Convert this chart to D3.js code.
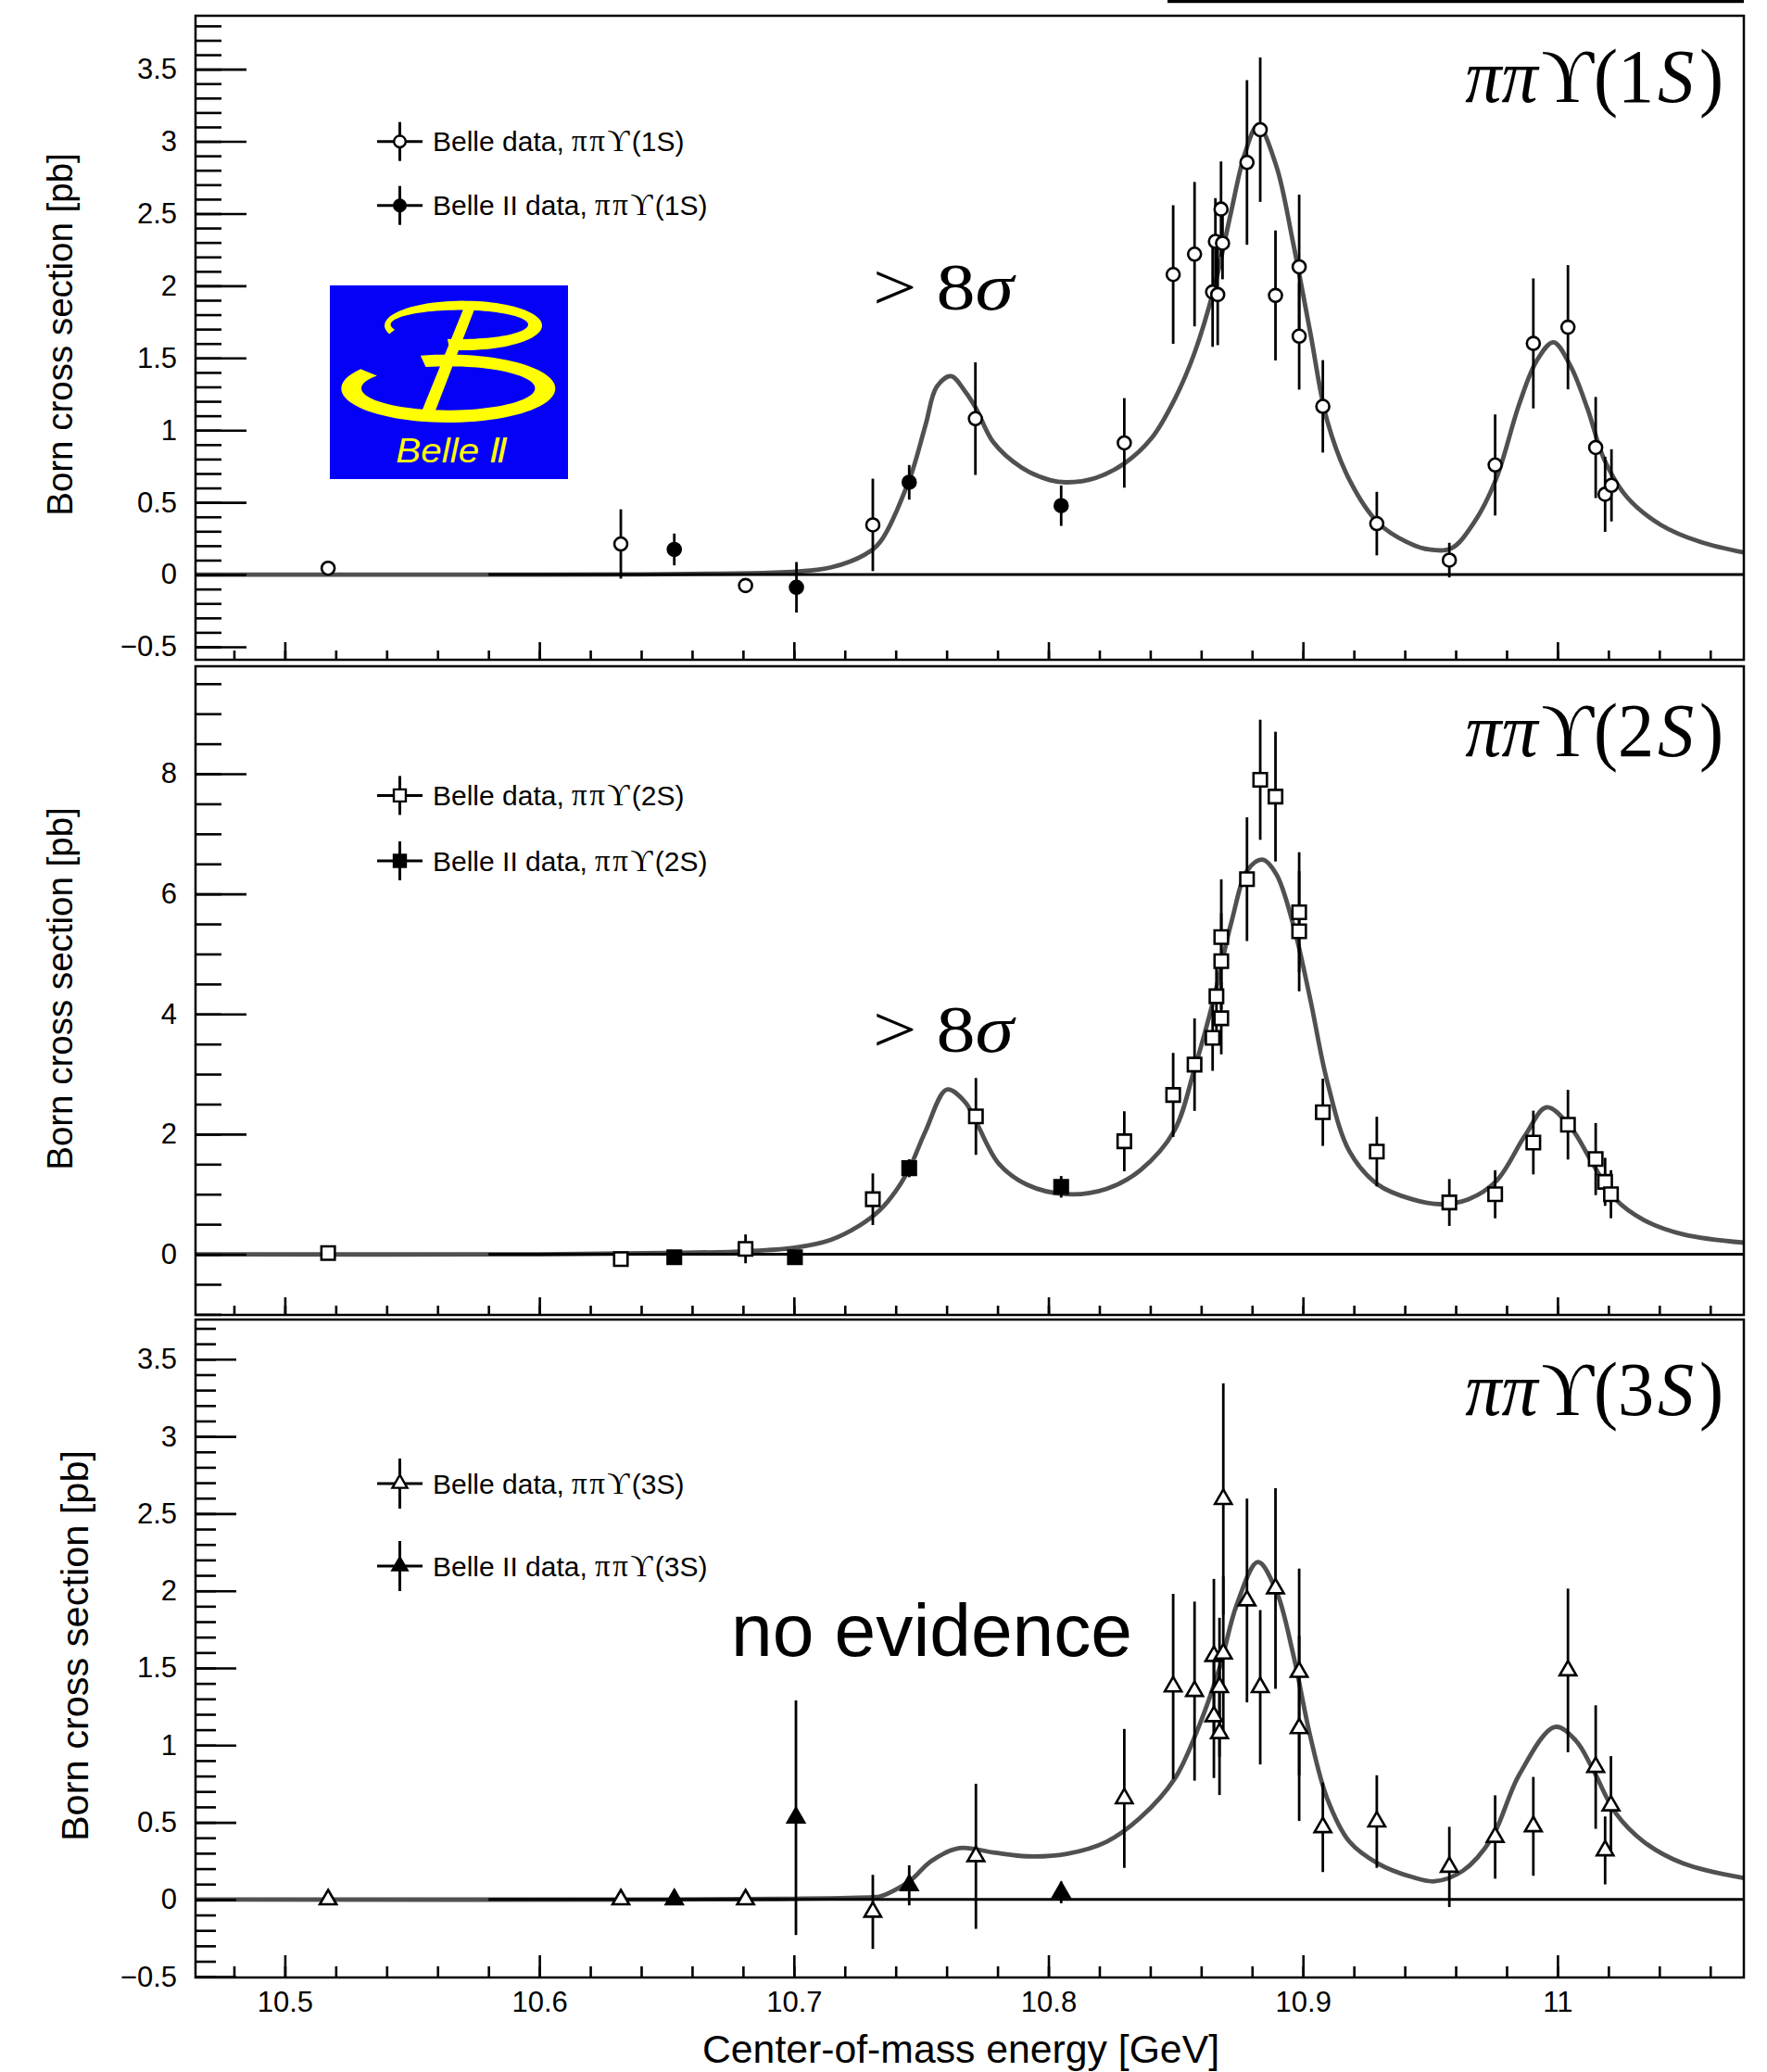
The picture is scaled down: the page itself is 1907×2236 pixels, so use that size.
<!DOCTYPE html>
<html>
<head>
<meta charset="utf-8">
<script src="https://cdn.jsdelivr.net/npm/d3@7"></script>
<style>
  body { margin: 0; background: #fff; }
  svg { display: block; }
  .tick text { font-family: "Liberation Sans", Arial, Helvetica, sans-serif; }
</style>
</head>
<body>
<svg id="chart" width="1907" height="2236"></svg>
<script>
// ---------- shared x axis ----------
const xDomain = [10.4649, 11.0732];
const xMajorTicks = [10.5, 10.6, 10.7, 10.8, 10.9, 11.0];
const xTickLabels = ["10.5", "10.6", "10.7", "10.8", "10.9", "11"];

// ---------- y ticks ----------
const yMajor1S = [-0.5, 0, 0.5, 1, 1.5, 2, 2.5, 3, 3.5];
const yLabels1S = ["\u22120.5", "0", "0.5", "1", "1.5", "2", "2.5", "3", "3.5"];
const yMajor2S = [0, 2, 4, 6, 8];
const yLabels2S = ["0", "2", "4", "6", "8"];
const yMajor3S = [-0.5, 0, 0.5, 1, 1.5, 2, 2.5, 3, 3.5];
const yLabels3S = ["\u22120.5", "0", "0.5", "1", "1.5", "2", "2.5", "3", "3.5"];

// ---------- pi pi Upsilon(1S): [E (GeV), sigma (pb), error] ----------
const belle1S = [
  [10.517, 0.044, 0.02], [10.632, 0.212, 0.24], [10.681, -0.076, 0.03],
  [10.731, 0.344, 0.32], [10.7713, 1.080, 0.39], [10.8298, 0.912, 0.31],
  [10.849, 2.078, 0.48], [10.8574, 2.219, 0.50], [10.8645, 1.957, 0.38],
  [10.8665, 1.939, 0.35], [10.8656, 2.307, 0.30], [10.8684, 2.295, 0.25],
  [10.8678, 2.531, 0.33], [10.878, 2.854, 0.57], [10.8832, 3.081, 0.50],
  [10.8892, 1.933, 0.45], [10.8985, 2.131, 0.50], [10.8985, 1.651, 0.37],
  [10.9078, 1.165, 0.32], [10.929, 0.353, 0.22], [10.9575, 0.100, 0.12],
  [10.9755, 0.759, 0.35], [10.9905, 1.601, 0.45], [11.0041, 1.713, 0.43],
  [11.015, 0.880, 0.35], [11.0187, 0.556, 0.26], [11.0212, 0.618, 0.25]
];
const belleII1S = [
  [10.653, 0.174, 0.11], [10.701, -0.088, 0.175],
  [10.7453, 0.639, 0.12], [10.805, 0.477, 0.14]
];
const fit1S = [
  [10.4649, 0], [10.60, 0], [10.65, 0.003], [10.69, 0.012], [10.7009, 0.02],
  [10.7146, 0.05], [10.7278, 0.138], [10.7339, 0.226], [10.7454, 0.66],
  [10.7517, 1.035], [10.7561, 1.30], [10.7617, 1.374], [10.7672, 1.27],
  [10.7715, 1.153], [10.7783, 0.918], [10.7894, 0.742], [10.8006, 0.654],
  [10.8072, 0.639], [10.8183, 0.668], [10.8299, 0.771], [10.8406, 0.947],
  [10.8495, 1.211], [10.8574, 1.536], [10.8650, 1.977], [10.8717, 2.507],
  [10.8772, 2.919], [10.8823, 3.11], [10.8895, 2.831], [10.8961, 2.30],
  [10.9028, 1.683], [10.9095, 1.066], [10.9183, 0.654], [10.9295, 0.359],
  [10.9406, 0.227], [10.9495, 0.174], [10.9584, 0.183], [10.9672, 0.36],
  [10.9757, 0.654], [10.9850, 1.183], [10.9917, 1.477], [10.9984, 1.609],
  [11.0050, 1.448], [11.0117, 1.153], [11.0183, 0.80], [11.0273, 0.536],
  [11.0406, 0.344], [11.0561, 0.226], [11.0732, 0.153]
];

// ---------- pi pi Upsilon(2S) ----------
const belle2S = [
  [10.517, 0.02, 0.03], [10.632, -0.08, 0.10], [10.681, 0.09, 0.24],
  [10.731, 0.916, 0.43], [10.7715, 2.295, 0.64], [10.8298, 1.881, 0.50],
  [10.849, 2.653, 0.70], [10.8574, 3.157, 0.77], [10.8645, 3.604, 0.55],
  [10.8679, 3.929, 0.60], [10.866, 4.295, 0.65], [10.8679, 4.88, 0.80],
  [10.8679, 5.282, 0.96], [10.878, 6.245, 1.03], [10.8832, 7.90, 1.00],
  [10.8892, 7.62, 1.08], [10.8985, 5.694, 1.00], [10.8985, 5.378, 1.00],
  [10.9078, 2.364, 0.56], [10.929, 1.71, 0.58], [10.9575, 0.862, 0.39],
  [10.9755, 0.999, 0.40], [10.9905, 1.86, 0.53], [11.0041, 2.157, 0.58],
  [11.015, 1.585, 0.60], [11.0187, 1.206, 0.40], [11.021, 1.0, 0.40]
];
const belleII2S = [
  [10.653, -0.05, 0.05], [10.7004, -0.05, 0.05],
  [10.7453, 1.433, 0.15], [10.805, 1.123, 0.18]
];
const fit2S = [
  [10.4649, 0], [10.60, 0], [10.65, 0.02], [10.681, 0.05], [10.7004, 0.11],
  [10.7145, 0.24], [10.7255, 0.47], [10.7339, 0.74], [10.7400, 1.05],
  [10.7454, 1.433], [10.7517, 2.05], [10.7601, 2.743], [10.7672, 2.537],
  [10.7717, 2.193], [10.7806, 1.503], [10.7916, 1.158], [10.8072, 1.0],
  [10.8228, 1.089], [10.8361, 1.40], [10.8494, 2.054], [10.8574, 3.09],
  [10.8650, 4.26], [10.8717, 5.50], [10.8783, 6.40], [10.8841, 6.57],
  [10.8895, 6.33], [10.8961, 5.50], [10.9028, 4.26], [10.9095, 2.88],
  [10.9183, 1.71], [10.9295, 1.158], [10.9428, 0.916], [10.9539, 0.834],
  [10.9650, 0.916], [10.9761, 1.226], [10.9873, 1.98], [10.9957, 2.446],
  [11.0050, 2.123], [11.0139, 1.503], [11.0228, 0.916], [11.0339, 0.571],
  [11.0495, 0.33], [11.0732, 0.193]
];

// ---------- pi pi Upsilon(3S) ----------
const belle3S = [
  [10.517, 0.0, 0.02], [10.632, 0.0, 0.02], [10.681, 0.0, 0.02],
  [10.731, -0.08, 0.24], [10.7715, 0.28, 0.47], [10.8298, 0.655, 0.45],
  [10.849, 1.38, 0.60], [10.8574, 1.35, 0.58], [10.865, 1.187, 0.40],
  [10.8672, 1.077, 0.40], [10.865, 1.577, 0.50], [10.8687, 1.593, 0.50],
  [10.8672, 1.375, 0.45], [10.8687, 2.594, 0.75], [10.878, 1.937, 0.66],
  [10.8832, 1.375, 0.50], [10.8892, 2.015, 0.65], [10.8985, 1.474, 0.67],
  [10.8985, 1.109, 0.60], [10.9078, 0.468, 0.29], [10.929, 0.505, 0.30],
  [10.9575, 0.211, 0.26], [10.9755, 0.405, 0.27], [10.9905, 0.474, 0.32],
  [11.0041, 1.484, 0.53], [11.015, 0.858, 0.40], [11.0187, 0.318, 0.22],
  [11.021, 0.609, 0.32]
];
const belleII3S = [
  [10.653, 0.0, 0.02], [10.7008, 0.53, 0.76],
  [10.7453, 0.092, 0.13], [10.805, 0.046, 0.07]
];
const fit3S = [
  [10.4649, 0], [10.65, 0], [10.70, 0.005], [10.731, 0.015], [10.7339, 0.02],
  [10.7454, 0.118], [10.7539, 0.249], [10.7650, 0.333], [10.7783, 0.305],
  [10.7916, 0.28], [10.8072, 0.296], [10.8228, 0.374], [10.8361, 0.53],
  [10.8495, 0.78], [10.8584, 1.093], [10.8672, 1.5], [10.8739, 1.906],
  [10.8823, 2.187], [10.8895, 2.0], [10.8961, 1.593], [10.9028, 1.062],
  [10.9095, 0.655], [10.9183, 0.374], [10.9295, 0.233], [10.9428, 0.146],
  [10.9517, 0.118], [10.9628, 0.186], [10.9739, 0.39], [10.9850, 0.81],
  [10.9990, 1.118], [11.0072, 1.03], [11.0139, 0.843], [11.0228, 0.561],
  [11.0339, 0.374], [11.0495, 0.233], [11.0732, 0.139]
];

// ---------- text ----------
const yTitle = "Born cross section [pb]";
const xTitle = "Center-of-mass energy [GeV]";
const channels = ["1S", "2S", "3S"];

// ---------- layout ----------
const X0 = 211, X1 = 1882;
const SANS = "'Liberation Sans', Arial, Helvetica, sans-serif";
const SERIF = "'Liberation Serif', 'DejaVu Serif', 'Times New Roman', serif";
const CURVE_COLOR = "#505050";

const svg = d3.select("#chart");
const x = d3.scaleLinear().domain(xDomain).range([X0, X1]);

const panels = [
  { ch: channels[0], top: 17, bottom: 712, yDomain: [-0.59, 3.87],
    major: yMajor1S, labels: yLabels1S, minorStep: 0.1,
    yMajorLen: 55, yMinorLen: 28, xMajorLen: 19, xMinorLen: 10,
    open: belle1S, filled: belleII1S, fit: fit1S,
    symbol: d3.symbolCircle, size: Math.PI * 7 * 7,
    legendY: [152.7, 221.7], legendBar: 21,
    titleX: 78, titleY: 361, titleSize: 38.5,
    chanBase: 110, note: "sigma", noteBase: 334 },
  { ch: channels[1], top: 719, bottom: 1419, yDomain: [-1.01, 9.79],
    major: yMajor2S, labels: yLabels2S, minorStep: 0.5,
    yMajorLen: 55, yMinorLen: 28, xMajorLen: 19, xMinorLen: 10,
    open: belle2S, filled: belleII2S, fit: fit2S,
    symbol: d3.symbolSquare, size: 14.5 * 14.5,
    legendY: [858.4, 929], legendBar: 21,
    titleX: 78, titleY: 1067, titleSize: 38.5,
    chanBase: 816, note: "sigma", noteBase: 1135 },
  { ch: channels[2], top: 1424, bottom: 2134, yDomain: [-0.505, 3.757],
    major: yMajor3S, labels: yLabels3S, minorStep: 0.1,
    yMajorLen: 44, yMinorLen: 22, xMajorLen: 24, xMinorLen: 12,
    open: belle3S, filled: belleII3S, fit: fit3S,
    symbol: d3.symbolTriangle, size: 0.433 * 18 * 18,
    legendY: [1601, 1690], legendBar: 27,
    titleX: 95, titleY: 1776, titleSize: 41.5,
    chanBase: 1527, note: "none", noteBase: 1787 }
];

panels.forEach((p, pi) => {
  const y = d3.scaleLinear().domain(p.yDomain).range([p.bottom, p.top]);
  const g = svg.append("g");

  const clipId = "clip" + pi;
  g.append("clipPath").attr("id", clipId)
    .append("rect").attr("x", X0).attr("y", p.top)
    .attr("width", X1 - X0).attr("height", p.bottom - p.top);

  // fitted line shape
  const line = d3.line()
    .x(d => x(d[0])).y(d => y(d[1]))
    .curve(d3.curveCatmullRom.alpha(0.5));
  g.append("path").datum(p.fit)
    .attr("clip-path", `url(#${clipId})`)
    .attr("d", line)
    .attr("fill", "none").attr("stroke", CURVE_COLOR)
    .attr("stroke-width", 4.8).attr("stroke-linejoin", "round");

  // zero reference line
  g.append("line")
    .attr("x1", x(10.58)).attr("x2", X1)
    .attr("y1", y(0)).attr("y2", y(0))
    .attr("stroke", "#000").attr("stroke-width", 3);

  // error bars
  const allPts = p.open.map(d => ({ d, filled: false }))
    .concat(p.filled.map(d => ({ d, filled: true })));
  g.append("g").selectAll("line").data(allPts).join("line")
    .attr("x1", o => x(o.d[0])).attr("x2", o => x(o.d[0]))
    .attr("y1", o => Math.max(p.top, y(o.d[1] + o.d[2])))
    .attr("y2", o => Math.min(p.bottom, y(o.d[1] - o.d[2])))
    .attr("stroke", "#000").attr("stroke-width", 2.8);

  // markers
  const sym = d3.symbol().type(p.symbol).size(p.size);
  g.append("g").selectAll("path").data(allPts).join("path")
    .attr("d", sym)
    .attr("transform", o => `translate(${x(o.d[0])},${y(o.d[1])})`)
    .attr("fill", o => o.filled ? "#000" : "#fff")
    .attr("stroke", "#000").attr("stroke-width", 2.6);

  // frame
  g.append("rect")
    .attr("x", X0).attr("y", p.top)
    .attr("width", X1 - X0).attr("height", p.bottom - p.top)
    .attr("fill", "none").attr("stroke", "#000").attr("stroke-width", 2.5);

  // y axis: minor then major ticks (pointing inward)
  const yMinor = d3.range(Math.ceil(p.yDomain[0] / p.minorStep) * p.minorStep,
                          p.yDomain[1], p.minorStep)
    .filter(v => v >= p.yDomain[0] && v <= p.yDomain[1]);
  const yMinorAxis = d3.axisLeft(y).tickValues(yMinor)
    .tickSize(-p.yMinorLen).tickFormat("");
  const yMajorAxis = d3.axisLeft(y).tickValues(p.major)
    .tickSize(-p.yMajorLen).tickPadding(20)
    .tickFormat((d, i) => p.labels[i]);
  [yMinorAxis, yMajorAxis].forEach(ax => {
    const a = g.append("g").attr("transform", `translate(${X0},0)`).call(ax);
    a.select(".domain").remove();
    a.selectAll(".tick line").attr("stroke", "#000").attr("stroke-width", 2.6);
    a.selectAll(".tick text").attr("font-size", 31).attr("fill", "#000");
  });

  // x axis: minor then major ticks (pointing inward)
  const xMinor = d3.range(10.48, 11.0732, 0.02);
  const xMinorAxis = d3.axisBottom(x).tickValues(xMinor)
    .tickSize(-p.xMinorLen).tickFormat("");
  const xMajorAxis = d3.axisBottom(x).tickValues(xMajorTicks)
    .tickSize(-p.xMajorLen).tickPadding(15)
    .tickFormat((d, i) => pi === 2 ? xTickLabels[i] : "");
  [xMinorAxis, xMajorAxis].forEach(ax => {
    const a = g.append("g").attr("transform", `translate(0,${p.bottom})`).call(ax);
    a.select(".domain").remove();
    a.selectAll(".tick line").attr("stroke", "#000").attr("stroke-width", 2.6);
    a.selectAll(".tick text").attr("font-size", 31).attr("fill", "#000");
  });

  // y title
  g.append("text")
    .attr("transform", `translate(${p.titleX},${p.titleY}) rotate(-90)`)
    .attr("text-anchor", "middle")
    .attr("font-family", SANS).attr("font-size", p.titleSize)
    .text(yTitle);

  // legend
  const legendRows = [
    { filled: false, label: "Belle data, " },
    { filled: true, label: "Belle II data, " }
  ];
  legendRows.forEach((r, ri) => {
    const ly = p.legendY[ri], lx = 431.5;
    const lg = g.append("g");
    lg.append("line").attr("x1", 407).attr("x2", 456).attr("y1", ly).attr("y2", ly)
      .attr("stroke", "#000").attr("stroke-width", 3);
    lg.append("line").attr("x1", lx).attr("x2", lx)
      .attr("y1", ly - p.legendBar).attr("y2", ly + p.legendBar)
      .attr("stroke", "#000").attr("stroke-width", 3);
    lg.append("path").attr("d", d3.symbol().type(p.symbol).size(p.size * 0.8)())
      .attr("transform", `translate(${lx},${ly})`)
      .attr("fill", r.filled ? "#000" : "#fff")
      .attr("stroke", "#000").attr("stroke-width", 2.4);
    const t = lg.append("text").attr("x", 467).attr("y", ly + 10.7)
      .attr("font-family", SANS).attr("font-size", 30).attr("fill", "#000");
    t.append("tspan").text(r.label);
    t.append("tspan").attr("font-family", SERIF).attr("font-size", 33)
      .attr("letter-spacing", 2.5).text("\u03C0\u03C0\u03D2");
    t.append("tspan").text(`(${p.ch})`);
  });

  // channel label (slightly condensed horizontally)
  const ct = g.append("text")
    .attr("transform", `translate(1860,${p.chanBase}) scale(0.955,1)`)
    .attr("x", 0).attr("y", 0)
    .attr("text-anchor", "end")
    .attr("font-family", SERIF).attr("font-size", 82);
  ct.append("tspan").attr("font-style", "italic").text("\u03C0\u03C0");
  ct.append("tspan").attr("dx", 4).text("\u03D2(" + p.ch[0]);
  ct.append("tspan").attr("dx", 4).attr("font-style", "italic").text(p.ch[1]);
  ct.append("tspan").attr("dx", 6).text(")");

  // significance annotation
  if (p.note === "sigma") {
    const st = g.append("text").attr("x", 942).attr("y", p.noteBase)
      .attr("font-family", SERIF).attr("font-size", 72)
      .attr("textLength", 152).attr("lengthAdjust", "spacingAndGlyphs");
    st.append("tspan").text("> 8");
    st.append("tspan").attr("font-style", "italic").text("\u03C3");
  } else {
    g.append("text").attr("x", 789).attr("y", p.noteBase)
      .attr("font-family", SANS).attr("font-size", 80)
      .attr("textLength", 433).attr("lengthAdjust", "spacingAndGlyphs")
      .text("no evidence");
  }
});

// x title
svg.append("text").attr("x", 758).attr("y", 2226)
  .attr("font-family", SANS).attr("font-size", 42.5)
  .attr("textLength", 558).attr("lengthAdjust", "spacingAndGlyphs")
  .text(xTitle);

// thin bar across the top right edge
svg.append("rect").attr("x", 1260).attr("y", 0).attr("width", 622).attr("height", 3.2)
  .attr("fill", "#000");

// ---------- Belle II logo ----------
function ringPath(o, inn, a0, a1) {
  const n = 80, pts = [];
  for (let i = 0; i <= n; i++) {
    const a = (a0 + (a1 - a0) * i / n) * Math.PI / 180;
    pts.push([o.cx + o.rx * Math.cos(a), o.cy + o.ry * Math.sin(a)]);
  }
  for (let i = n; i >= 0; i--) {
    const a = (a0 + (a1 - a0) * i / n) * Math.PI / 180;
    pts.push([inn.cx + inn.rx * Math.cos(a), inn.cy + inn.ry * Math.sin(a)]);
  }
  return "M" + pts.map(q => q[0].toFixed(2) + "," + q[1].toFixed(2)).join("L") + "Z";
}
const logo = svg.append("g").attr("transform", "translate(356,308)");
const YEL = "#ffff00";
logo.append("rect").attr("width", 257).attr("height", 209).attr("fill", "#0500f8");
// upper bowl
logo.append("path").attr("fill", YEL).attr("d", ringPath(
  { cx: 144, cy: 43.3, rx: 85, ry: 26.7 },
  { cx: 139.8, cy: 42.3, rx: 74.2, ry: 15.7 }, 160, 460));
// lower bowl
logo.append("path").attr("fill", YEL).attr("d", ringPath(
  { cx: 127.8, cy: 111.3, rx: 115.5, ry: 36.7 },
  { cx: 127.7, cy: 111, rx: 93.7, ry: 23.7 }, 255, 575));
// stem
logo.append("path").attr("fill", YEL)
  .attr("d", "M145.5,22 L157.5,22 L114,135 L99.5,135 Z");
const lt = logo.append("text").attr("x", 71.3).attr("y", 190.7)
  .attr("font-family", SANS).attr("font-style", "italic").attr("font-size", 37)
  .attr("fill", YEL).attr("textLength", 121).attr("lengthAdjust", "spacingAndGlyphs");
lt.append("tspan").text("Belle ");
lt.append("tspan").attr("font-family", "'DejaVu Sans', sans-serif").text("\u2161");
</script>
</body>
</html>
